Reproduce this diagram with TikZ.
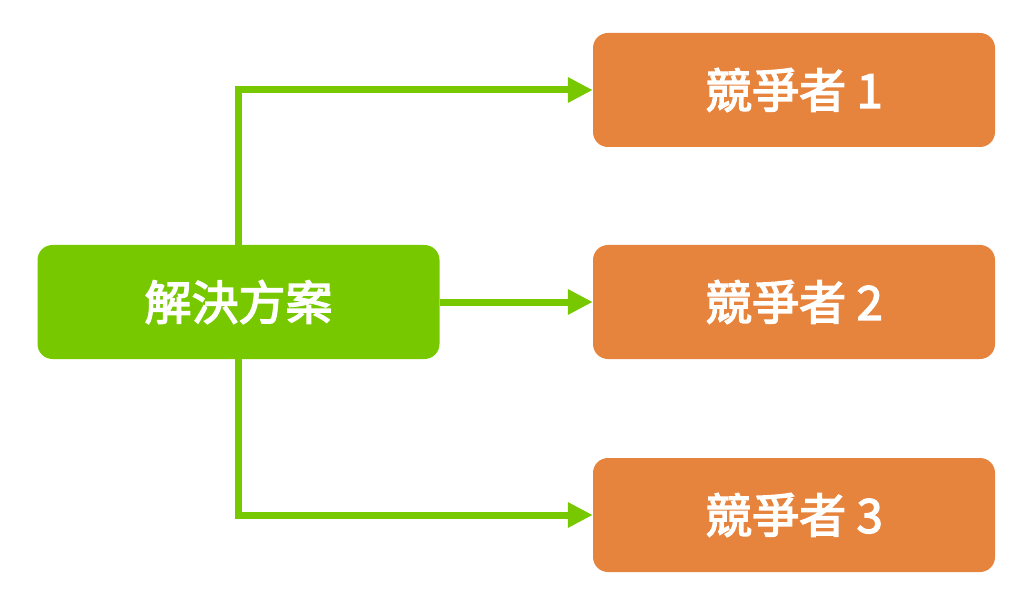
\documentclass[tikz,border=0pt]{standalone}
\usepackage{fontspec}
\newfontfamily\cjk{Noto Sans CJK TC}[FakeBold=3]
\usetikzlibrary{arrows.meta,positioning}
\definecolor{solgreen}{HTML}{78C800}
\definecolor{comporange}{HTML}{E6833C}

\begin{document}
\begin{tikzpicture}[x=1pt,y=-1pt,
  box/.style={rounded corners=15pt, minimum width=402pt, minimum height=114pt,
    text=white, font=\cjk\fontsize{47}{50}\selectfont, inner sep=0pt},
  link/.style={draw=solgreen, line width=7pt, -{Triangle[length=25pt,width=24pt]}}]
\useasboundingbox (0,0) rectangle (1024,601);
\node[box, fill=solgreen] (sol) at (238.5,302) {解決方案};
\node[box, fill=comporange] (c1) at (794,90) {競爭者 1};
\node[box, fill=comporange] (c2) at (794,302) {競爭者 2};
\node[box, fill=comporange] (c3) at (794,515) {競爭者 3};
\draw[link] (sol.north) |- (c1.west);
\draw[link] (sol.east) -- (c2.west);
\draw[link] (sol.south) |- (c3.west);
\end{tikzpicture}
\end{document}
